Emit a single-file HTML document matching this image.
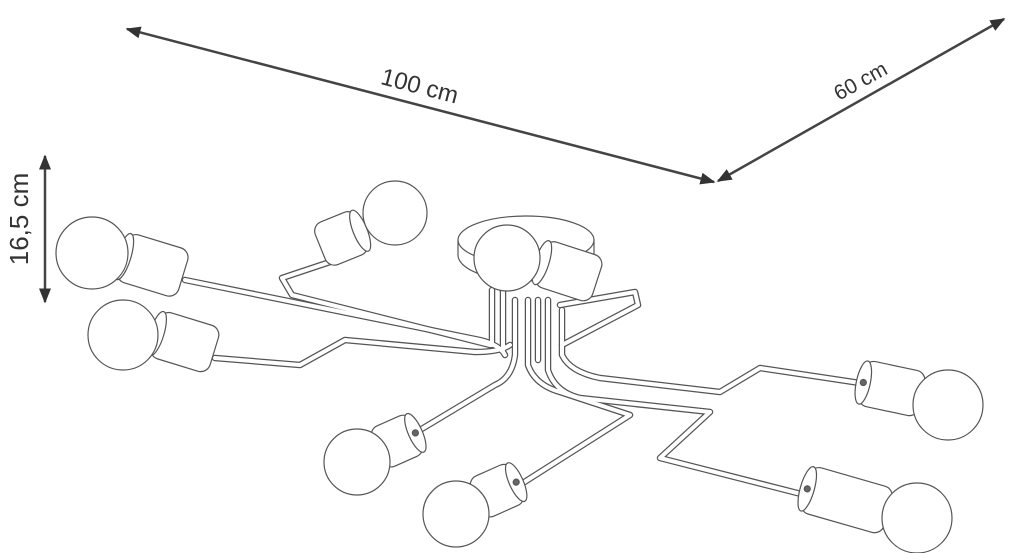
<!DOCTYPE html>
<html><head><meta charset="utf-8"><style>
html,body{margin:0;padding:0;background:#fff;}
svg{display:block;}
text{font-family:"Liberation Sans",sans-serif;fill:#333;}
</style></head><body>
<svg width="1020" height="553" viewBox="0 0 1020 553" xmlns="http://www.w3.org/2000/svg">
<defs>
<marker id="ah" viewBox="0 0 10 10" refX="9" refY="5" markerWidth="6" markerHeight="6" orient="auto-start-reverse">
<path d="M0,1 L10,5 L0,9 z" fill="#333"/></marker>
</defs>
<line x1="127" y1="29" x2="714" y2="182" stroke="#444" stroke-width="2.5" marker-start="url(#ah)" marker-end="url(#ah)"/>
<line x1="718" y1="181" x2="1004" y2="19" stroke="#444" stroke-width="2.5" marker-start="url(#ah)" marker-end="url(#ah)"/>
<line x1="45" y1="156" x2="45" y2="302" stroke="#444" stroke-width="2.5" marker-start="url(#ah)" marker-end="url(#ah)"/>
<text x="420" y="94" font-size="24" transform="rotate(14.6 420 85)" text-anchor="middle">100 cm</text>
<text x="860" y="88" font-size="21" transform="rotate(-29 860 80)" text-anchor="middle">60 cm</text>
<text x="37" y="228" font-size="26" transform="rotate(-90 28 228)" text-anchor="middle">16,5 cm</text>

<g fill="none" stroke-linejoin="round" stroke-linecap="round">
<g stroke="#555" stroke-width="6.5">
<path d="M185,280 L480,340 Q500,345 505,355"/>
<path d="M215,358 L300,365 L345,340 L475,352 Q500,352 510,345"/>
<path d="M330,262 L282,278 L292,295 L490,345"/>
<path d="M560,305 L635,292 L638,305 L562,345"/>
<path d="M515,300 L515,355 Q512,378 495,385 L420,430"/>
<path d="M528,300 L528,365 Q535,385 560,392 L630,415 L515,488"/>
<path d="M562,310 L562,355 Q570,372 600,378 L720,392 L760,368 L860,383"/>
<path d="M548,300 L548,370 Q555,392 580,398 L710,412 L660,458 L805,495"/>
<path d="M492,290 L492,345"/><path d="M503,290 L503,350"/><path d="M538,300 L538,360"/>
</g>
<g stroke="#fff" stroke-width="4">
<path d="M185,280 L480,340 Q500,345 505,355"/>
<path d="M215,358 L300,365 L345,340 L475,352 Q500,352 510,345"/>
<path d="M330,262 L282,278 L292,295 L490,345"/>
<path d="M560,305 L635,292 L638,305 L562,345"/>
<path d="M515,300 L515,355 Q512,378 495,385 L420,430"/>
<path d="M528,300 L528,365 Q535,385 560,392 L630,415 L515,488"/>
<path d="M562,310 L562,355 Q570,372 600,378 L720,392 L760,368 L860,383"/>
<path d="M548,300 L548,370 Q555,392 580,398 L710,412 L660,458 L805,495"/>
<path d="M492,290 L492,345"/><path d="M503,290 L503,350"/><path d="M538,300 L538,360"/>
</g>
</g>

<g stroke="#555" stroke-width="1.2" fill="#fff">
<path d="M458,240 L458,255 A68,26 0 0 0 594,255 L594,240 Z"/>
<ellipse cx="526" cy="240" rx="68" ry="24"/>
</g>

<g stroke="#555" stroke-width="1.2" fill="#fff">
<g transform="translate(122,256) rotate(17)"><rect x="0" y="-25" width="64" height="50" rx="10"/><ellipse cx="2" cy="0" rx="7" ry="24"/></g>
<g transform="translate(155,333) rotate(17)"><rect x="0" y="-24" width="62" height="48" rx="10"/><ellipse cx="2" cy="0" rx="7" ry="23"/></g>
<g transform="translate(362,230) rotate(158)"><rect x="0" y="-23" width="45" height="46" rx="10"/><ellipse cx="2" cy="0" rx="7" ry="22"/></g>
<g transform="translate(540,262) rotate(18)"><rect x="0" y="-24" width="60" height="48" rx="10"/><ellipse cx="2" cy="0" rx="7" ry="23"/></g>
<g transform="translate(377,450) rotate(-24)"><rect x="0" y="-22" width="44" height="44" rx="10"/><ellipse cx="42" cy="0" rx="7" ry="21"/><circle cx="42" cy="0" r="3" fill="#666"/></g>
<g transform="translate(476,500) rotate(-24)"><rect x="0" y="-22" width="46" height="44" rx="10"/><ellipse cx="44" cy="0" rx="7" ry="21"/><circle cx="44" cy="0" r="3" fill="#666"/></g>
<g transform="translate(922,395) rotate(192)"><rect x="0" y="-23" width="62" height="46" rx="10"/><ellipse cx="60" cy="0" rx="7" ry="22"/><circle cx="60" cy="0" r="3" fill="#666"/></g>
<g transform="translate(888,512) rotate(196)"><rect x="0" y="-24" width="86" height="48" rx="10"/><ellipse cx="84" cy="0" rx="7" ry="23"/><circle cx="84" cy="0" r="3" fill="#666"/></g>
<circle cx="92" cy="253" r="36"/>
<circle cx="123" cy="335" r="35"/>
<circle cx="395" cy="213" r="32"/>
<circle cx="507" cy="258" r="33"/>
<circle cx="357" cy="462" r="33"/>
<circle cx="456" cy="514" r="33"/>
<circle cx="948" cy="405" r="35"/>
<circle cx="917" cy="518" r="35"/>
</g>
</svg>
</body></html>
